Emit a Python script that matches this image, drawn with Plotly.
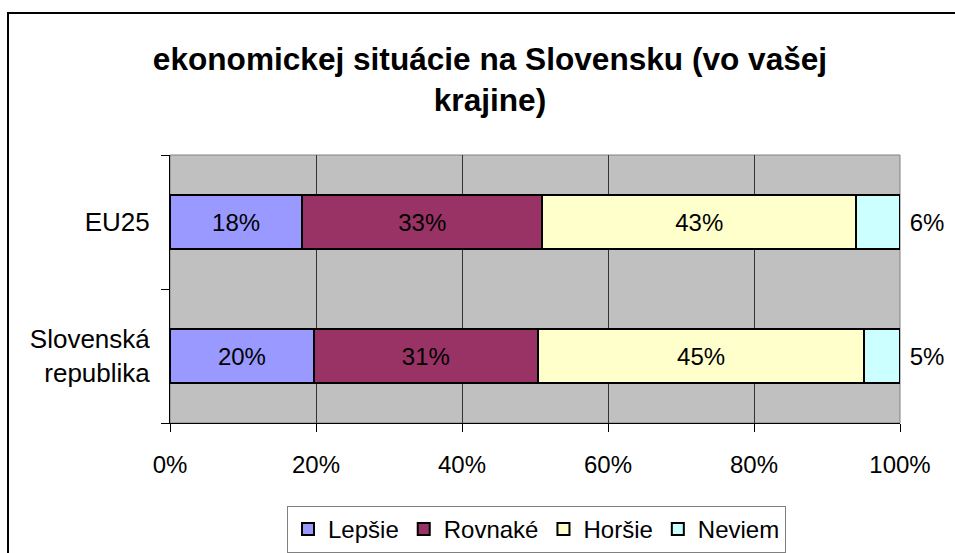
import plotly.graph_objects as go

categories = ["Slovenská<br>republika", "EU25"]
series_names = ["Lepšie", "Rovnaké", "Horšie", "Neviem"]
lepsie = [19.7, 18.1]
rovnake = [30.7, 32.9]
horsie = [44.7, 43.0]
neviem = [4.9, 6.0]
colors = ["#9999FF", "#993366", "#FFFFCC", "#CCFFFF"]
x_ticks = [0, 20, 40, 60, 80, 100]
x_tick_labels = ["0%", "20%", "40%", "60%", "80%", "100%"]

FONT = "Liberation Sans, Arial, sans-serif"

fig = go.Figure()
for i, (name, vals) in enumerate(zip(series_names, [lepsie, rovnake, horsie, neviem])):
    last = i == 3
    fig.add_trace(go.Bar(
        y=categories, x=vals, name=name, orientation="h",
        marker=dict(color=colors[i], line=dict(color="black", width=2)),
        texttemplate="\u00a0%{x:.0f}%" if last else "%{x:.0f}%",
        textposition="outside" if last else "inside",
        insidetextanchor="middle",
        textangle=0,
        textfont=dict(family=FONT, size=24, color="black"),
        cliponaxis=False,
    ))

W, H = 955, 553
L, R, T, B = 170, 900, 155, 423
pw, ph = R - L, B - T

fig.update_layout(
    width=W, height=H,
    margin=dict(l=L, r=W - R, t=T, b=H - B, autoexpand=False),
    barmode="stack", bargap=0.6,
    paper_bgcolor="white", plot_bgcolor="#C0C0C0",
    font=dict(family=FONT, size=24, color="black"),
    title=dict(
        text="<b>ekonomickej situácie na Slovensku (vo vašej<br>krajine)</b>",
        x=(490 - L) / pw, xref="paper", xanchor="center",
        y=1 - 70 / H, yref="container", yanchor="top",
        font=dict(family=FONT, size=31.6, color="black"),
    ),
    legend=dict(
        orientation="h", x=(536.5 - L) / pw, xanchor="center",
        y=-(506 - B) / ph, yanchor="top",
        bordercolor="#808080", borderwidth=1,
        font=dict(family=FONT, size=24, color="black"),
        itemwidth=30, traceorder="normal",
    ),
    showlegend=True,
)
fig.update_xaxes(
    range=[0, 100], tickvals=x_ticks, ticktext=x_tick_labels,
    ticks="outside", ticklen=8, tickcolor="black",
    showgrid=True, gridcolor="#333333", gridwidth=1,
    showline=True, linecolor="black", linewidth=1, mirror=False,
    zeroline=False, tickfont=dict(size=24), ticklabelstandoff=12,
)
fig.update_yaxes(
    tickson="boundaries", ticks="outside", ticklen=8, tickcolor="black",
    showline=True, linecolor="black", linewidth=1,
    showgrid=False, tickfont=dict(size=26), ticklabelstandoff=14,
)
# plot area top/right border (grey)
fig.add_shape(type="rect", xref="paper", yref="paper", x0=0, x1=1, y0=0, y1=1,
              line=dict(color="#808080", width=1), layer="below")
# outer chart border (runs off the right and bottom edges)
fig.add_shape(type="rect", xref="paper", yref="paper",
              x0=(8 - L) / pw, x1=(975 - L) / pw,
              y0=-(575 - B) / ph, y1=1 + (T - 13) / ph,
              line=dict(color="black", width=2))
fig.write_html(
    "out.html",
    config={"displayModeBar": False, "staticPlot": True},
    post_script="document.body.style.margin='0';document.body.style.overflow='hidden';",
)
